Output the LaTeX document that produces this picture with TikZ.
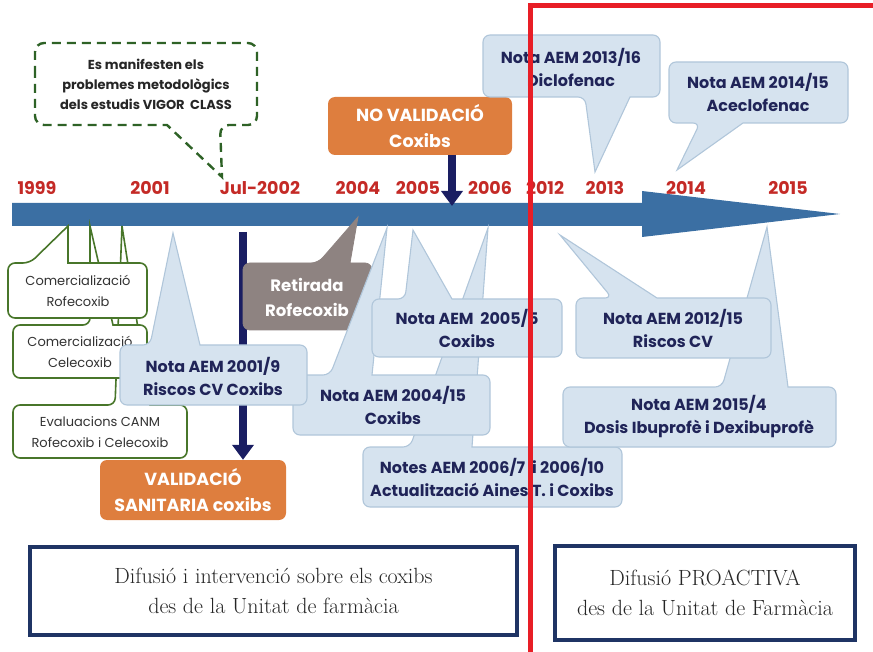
\documentclass[tikz,border=0pt]{standalone}
\usepackage{fontspec}
\newfontfamily\gothic{Poppins}
\usetikzlibrary{arrows.meta}

\definecolor{barblue}{RGB}{59,111,163}
\definecolor{yearred}{RGB}{196,42,38}
\definecolor{calfill}{RGB}{214,227,239}
\definecolor{calline}{RGB}{176,198,218}
\definecolor{navytext}{RGB}{32,36,88}
\definecolor{orangebox}{RGB}{222,126,62}
\definecolor{greybox}{RGB}{142,131,129}
\definecolor{darknavy}{RGB}{26,30,98}
\definecolor{boxgreen}{RGB}{72,118,42}
\definecolor{dashgreen}{RGB}{46,98,38}
\definecolor{framenavy}{RGB}{31,52,100}
\definecolor{linered}{RGB}{232,30,38}

% callout with the tail on the top edge: style, x1, y1, x2, y2, tip x, tip y, tail left, tail right
\newcommand\calltop[9]{%
  \filldraw[#1] (#2,{(#3+#5)/2}) -- (#2,#3) -- (#8,#3) [sharp corners]-- (#6,#7) -- (#9,#3)
    [rounded corners=7pt]-- (#4,#3) -- (#4,#5) -- (#2,#5) -- cycle;}
% callout with the tail on the bottom edge
\newcommand\callbot[9]{%
  \filldraw[#1] (#2,{(#3+#5)/2}) -- (#2,#5) -- (#8,#5) [sharp corners]-- (#6,#7) -- (#9,#5)
    [rounded corners=7pt]-- (#4,#5) -- (#4,#3) -- (#2,#3) -- cycle;}

\tikzset{
  x=1pt, y=-1pt,
  bluecall/.style={fill=calfill, draw=calline, line width=1.1pt, rounded corners=7pt},
  greencall/.style={fill=white, draw=boxgreen, line width=1.6pt, rounded corners=7pt},
  greycall/.style={fill=greybox, draw=greybox, line width=0.8pt, rounded corners=7pt},
  bluetext/.style={font={\gothic\bfseries\fontsize{16}{23}\selectfont}, text=navytext, align=center, inner sep=0pt},
  greentext/.style={font={\gothic\fontsize{13}{21}\selectfont}, text=black!80, align=center, inner sep=0pt},
  whitetext/.style={font={\gothic\bfseries\fontsize{16.5}{25}\selectfont}, text=white, align=center, inner sep=0pt},
  yeartext/.style={font={\gothic\bfseries\fontsize{17.5}{20}\selectfont}, text=yearred, inner sep=0pt},
  orangebox/.style={fill=orangebox, rounded corners=7pt, minimum width=#1, minimum height=58pt,
    font={\gothic\bfseries\fontsize{17.5}{26}\selectfont}, text=white, align=center},
  navyarrow/.style={draw=darknavy, line width=7.5pt, -{Triangle[width=21pt,length=15pt]}},
  framebox/.style={draw=framenavy, line width=3.5pt, fill=white, align=center,
    font={\fontsize{22}{30}\selectfont}, text=black!85},
}

\begin{document}
\begin{tikzpicture}
\useasboundingbox (0,0) rectangle (873,652);

% timeline arrow
\fill[barblue] (12,203) -- (642,203) -- (642,191) -- (840,214) -- (642,237) -- (642,226) -- (12,226) -- cycle;

% years
\node[yeartext] (y1999) at (37,188) {1999};
\node[yeartext] (y2001) at (150,188) {2001};
\node[yeartext] (y2002) at (260,188) {Jul-2002};
\node[yeartext] (y2004) at (358,188) {2004};
\node[yeartext] (y2005) at (418,188) {2005};
\node[yeartext] (y2006) at (490,188) {2006};
\node[yeartext] (y2012) at (545,188) {2012};
\node[yeartext] (y2013) at (605,188) {2013};
\node[yeartext] (y2014) at (686,188) {2014};
\node[yeartext] (y2015) at (788,188) {2015};

% dashed remark on the VIGOR / CLASS studies
\filldraw[fill=white, draw=dashgreen, line width=2.4pt, dash pattern=on 9pt off 6pt, rounded corners=9pt]
  (35,84) -- (35,43) -- (257,43) -- (257,125) -- (220,125) [sharp corners]-- (222,177) -- (167,125)
  [rounded corners=9pt]-- (35,125) -- cycle;
\node[bluetext, text=black!85, font={\gothic\bfseries\fontsize{13}{20}\selectfont}] (vigor) at (146,84)
  {Es manifesten els\\problemes metodològics\\dels estudis VIGOR\ \ CLASS};

% no validation box and its arrow onto the timeline
\node[orangebox=184pt] (noval) at (420,126) {NO VALIDACIÓ\\Coxibs};
\coordinate (nvfrom) at (452,155);
\coordinate (nvto) at (452,206);
\draw[navyarrow] (nvfrom) -- (nvto);

% marketing and evaluation callouts
\calltop{greencall}{13}{405}{187}{458}{122}{226}{115}{150}
\calltop{greencall}{13}{325}{147}{378}{90}{226}{90}{113}
\calltop{greencall}{8}{263}{147}{318}{68}{226}{30}{68}
\node[greentext] (comrofe) at (78,291) {Comercializació\\Rofecoxib};
\node[greentext] (comcele) at (80,352) {Comercializació\\Celecoxib};
\node[greentext] (canm) at (100,432) {Evaluacions CANM\\Rofecoxib i Celecoxib};

% validation arrow from the timeline
\coordinate (valfrom) at (243,232);
\node[orangebox=186pt, minimum height=60pt] (valid) at (193,490) {VALIDACIÓ\\SANITARIA coxibs};
\draw[navyarrow] (valfrom) -- (valfrom |- valid.north);

% withdrawal of rofecoxib
\calltop{greycall}{243}{263}{372}{330}{358}{217}{318}{350}
\node[whitetext] (retirada) at (307,297) {Retirada\\Rofecoxib};

% AEM notes
\calltop{bluecall}{363}{447}{622}{507}{488}{228}{410}{472}
\node[bluetext] (n2006) at (492,477) {Notes AEM 2006/7\ \ i 2006/10\\Actualització Aines T. i Coxibs};
\calltop{bluecall}{293}{375}{490}{435}{387}{228}{330}{372}
\node[bluetext] (n2004) at (393,405) {Nota AEM 2004/15\\Coxibs};
\calltop{bluecall}{372}{299}{562}{357}{413}{230}{405}{452}
\node[bluetext] (n2005) at (467,328) {Nota AEM\ \ 2005/5\\Coxibs};
\calltop{bluecall}{120}{345}{307}{405}{173}{233}{150}{200}
\node[bluetext] (n2001) at (213,376) {Nota AEM 2001/9\\Riscos CV Coxibs};
\calltop{bluecall}{563}{387}{836}{447}{767}{227}{722}{788}
\node[bluetext] (n2015) at (699,417) {Nota AEM 2015/4\\Dosis Ibuprofè i Dexibuprofè};
\calltop{bluecall}{576}{298}{771}{358}{560}{235}{612}{657}
\node[bluetext] (n2012) at (673,328) {Nota AEM 2012/15\\Riscos CV};
\callbot{bluecall}{483}{35}{660}{97}{595}{172}{585}{630}
\node[bluetext] (n2013) at (571,67) {Nota AEM 2013/16\\Diclofenac};
\callbot{bluecall}{669}{62}{848}{123}{677}{170}{700}{743}
\node[bluetext] (n2014) at (758,92) {Nota AEM 2014/15\\Aceclofenac};

% pharmacy unit frames
\node[framebox, minimum width=487pt, minimum height=88pt] (difusio) at (273.5,591)
  {Difusió i intervenció sobre els coxibs\\des de la Unitat de farmàcia};
\node[framebox, minimum width=300pt, minimum height=94pt] (proactiva) at (705,593)
  {Difusió PROACTIVA\\des de la Unitat de Farmàcia};

% proactive period marker
\coordinate (redbottom) at (530.5,652);
\coordinate (redcorner) at (530.5,5.5);
\coordinate (redright) at (873,5.5);
\draw[linered, line width=5pt] (redbottom) -- (redcorner) -- (redright);
\end{tikzpicture}
\end{document}
